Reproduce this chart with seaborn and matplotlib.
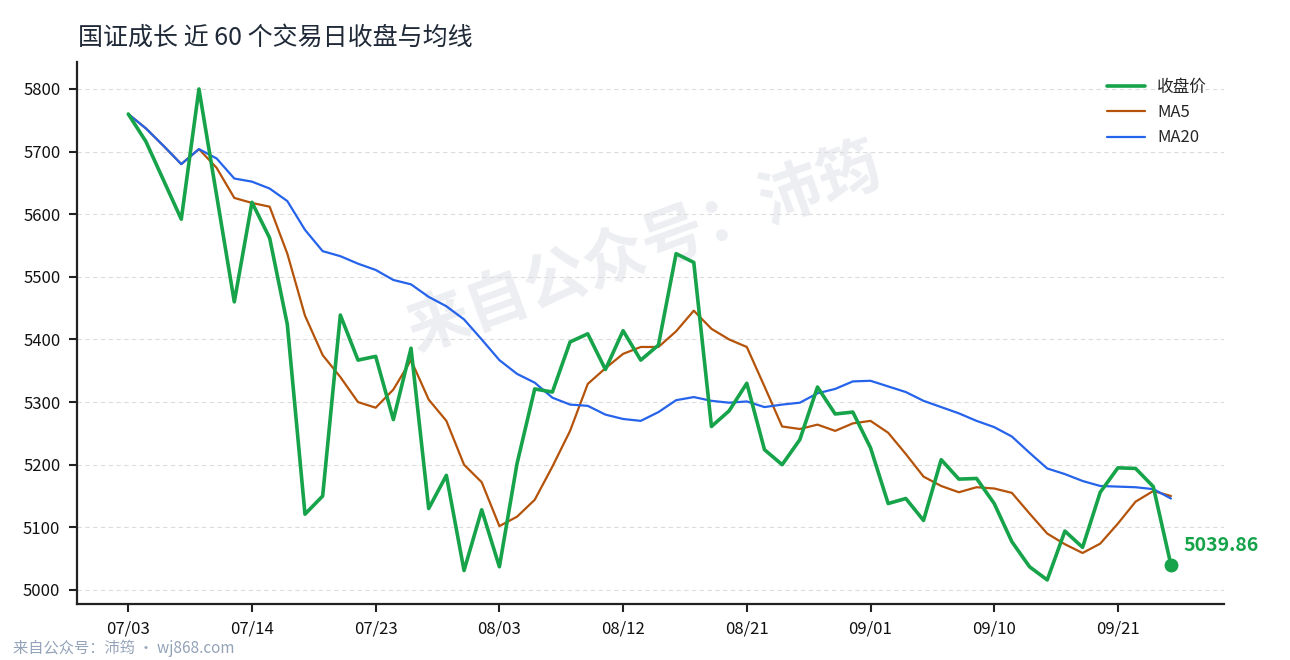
import numpy as np
import pandas as pd
import matplotlib
matplotlib.use("Agg")
import matplotlib.pyplot as plt
import seaborn as sns

# ---- data ----
close = [5760, 5716, 5654, 5592, 5800, 5630, 5460, 5619, 5562, 5424,
         5121, 5150, 5439, 5367, 5373, 5272, 5386, 5130, 5183, 5031,
         5128, 5037, 5202, 5321, 5316, 5396, 5409, 5352, 5414, 5367,
         5391, 5537, 5523, 5261, 5286, 5330, 5224, 5200, 5240, 5324,
         5281, 5284, 5227, 5138, 5146, 5111, 5208, 5177, 5178, 5138,
         5077, 5037, 5016, 5094, 5068, 5156, 5195, 5194, 5165, 5039.86]
ma5 = [5760, 5737, 5709, 5680, 5704, 5674, 5626, 5618, 5612, 5537,
       5438, 5375, 5340, 5300, 5291, 5320, 5367, 5304, 5270, 5200,
       5172, 5102, 5117, 5144, 5197, 5254, 5329, 5354, 5377, 5388,
       5388, 5413, 5446, 5417, 5400, 5388, 5325, 5261, 5257, 5264,
       5254, 5266, 5270, 5251, 5217, 5181, 5166, 5156, 5164, 5162,
       5155, 5122, 5090, 5073, 5059, 5074, 5106, 5141, 5158, 5150]
ma20 = [5760, 5737, 5709, 5680, 5704, 5689, 5657, 5652, 5641, 5621,
        5575, 5541, 5533, 5521, 5511, 5495, 5488, 5468, 5453, 5432,
        5400, 5367, 5345, 5331, 5307, 5296, 5294, 5280, 5273, 5270,
        5284, 5303, 5308, 5302, 5299, 5301, 5292, 5296, 5299, 5314,
        5321, 5333, 5334, 5325, 5316, 5302, 5292, 5282, 5270, 5260,
        5245, 5219, 5194, 5185, 5174, 5166, 5165, 5164, 5161, 5146]
tick_labels = ["07/03", "07/14", "07/23", "08/03", "08/12",
               "08/21", "09/01", "09/10", "09/21"]
y_ticks = [5000, 5100, 5200, 5300, 5400, 5500, 5600, 5700, 5800]

title = "国证成长 近 60 个交易日收盘与均线"
series_names = ["收盘价", "MA5", "MA20"]

df = pd.DataFrame({"idx": np.arange(len(close)), "close": close,
                   "ma5": ma5, "ma20": ma20})

# ---- style ----
sns.set_style("ticks")
plt.rcParams["font.family"] = ["Noto Sans CJK SC", "DejaVu Sans"]
plt.rcParams["axes.unicode_minus"] = False

GREEN = "#16a34a"
ORANGE = "#b45309"
BLUE = "#2563eb"

fig = plt.figure(figsize=(12.9, 6.6), dpi=100)
ax = fig.add_axes([0.0597, 0.0848, 0.8891, 0.8212])

# watermark behind lines
ax.text(0.495, 0.655, "来自公众号：沛筠", transform=ax.transAxes,
        ha="center", va="center", rotation=20, rotation_mode="anchor",
        fontsize=45, fontweight="bold", color="#eceef2", zorder=0)

sns.lineplot(data=df, x="idx", y="close", ax=ax, color=GREEN, linewidth=2.6,
             label=series_names[0], zorder=4)
sns.lineplot(data=df, x="idx", y="ma5", ax=ax, color=ORANGE, linewidth=1.6,
             label=series_names[1], zorder=3)
sns.lineplot(data=df, x="idx", y="ma20", ax=ax, color=BLUE, linewidth=1.6,
             label=series_names[2], zorder=3)

# endpoint marker + label
last_i = df["idx"].iloc[-1]
last_v = df["close"].iloc[-1]
ax.plot([last_i], [last_v], "o", color=GREEN, markersize=9, zorder=5)
ax.annotate(f"{last_v:.2f}", (last_i, last_v), xytext=(9, 14),
            textcoords="offset points", ha="left", va="center",
            fontsize=14, fontweight="bold", color=GREEN)

# axes
ax.set_xlim(-2.9, 62.0)
ax.set_ylim(4977.5, 5843)
ax.set_xticks(np.arange(0, len(close), 7)[:len(tick_labels)])
ax.set_xticklabels(tick_labels)
ax.set_yticks(y_ticks)
ax.set_xlabel("")
ax.set_ylabel("")
ax.tick_params(axis="both", labelsize=12, length=6, width=1.5,
               color="#222222", labelcolor="#111111", pad=6)
ax.grid(axis="y", linestyle=(0, (4, 3)), color="#dcdcdc", linewidth=0.8)
ax.set_axisbelow(True)
sns.despine(ax=ax)
for s in ("left", "bottom"):
    ax.spines[s].set_linewidth(1.6)
    ax.spines[s].set_color("#222222")

leg = ax.legend(loc="upper right", frameon=False, fontsize=12,
                handlelength=2.3, handletextpad=0.75, labelspacing=0.5,
                borderaxespad=0.6)

fig.text(0.0605, 0.943, title, fontsize=18, color="#1f2937",
         ha="left", va="center")
fig.text(0.010, 0.018, "来自公众号：沛筠 · wj868.com", fontsize=11,
         color="#94a3b8", ha="left", va="center")

fig.savefig("out.png", dpi=100)
